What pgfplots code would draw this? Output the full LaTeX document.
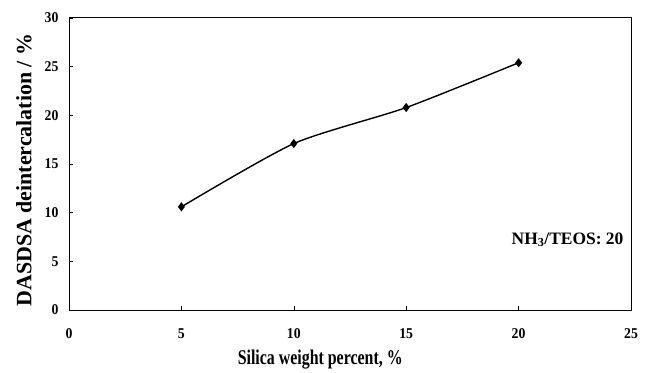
\documentclass[border=0pt]{standalone}
\usepackage{fontspec}
\setmainfont{Liberation Serif}
\usepackage{pgfplots}
\pgfplotsset{compat=1.18}
\begin{document}
\begin{tikzpicture}[x=1bp,y=1bp]
\useasboundingbox (0,0) rectangle (648,372);
\begin{axis}[
  at={(69bp,62bp)}, anchor=south west,
  scale only axis, width=562bp, height=292bp,
  xmin=0, xmax=25, ymin=0, ymax=30,
  xtick={0,5,...,25}, ytick={0,5,...,30},
  tick align=inside, xtick pos=bottom, ytick pos=left,
  major tick length=4bp,
  axis line style={line width=1bp},
  tick style={black, line width=0.6bp},
  ticklabel style={font=\fontsize{15}{16}\selectfont\bfseries, xscale=0.92},
  /pgf/number format/assume math mode=true,
  xticklabel style={yshift=-15bp},
  yticklabel style={xshift=-8bp},
  xlabel={Silica weight percent, \%},
  ylabel={DASDSA deintercalation / \%},
  xlabel style={font=\fontsize{21}{23}\selectfont\bfseries, xscale=0.76, at={(axis description cs:0.447,-0.168)}, anchor=center},
  ylabel style={font=\fontsize{22}{24}\selectfont\bfseries, at={(axis description cs:-0.080,0.479)}, anchor=center},
]
\addplot[black, line width=1.4bp, smooth, tension=0.4, mark=diamond*, mark size=3.5bp, mark options={solid}] coordinates {
(5,10.6) (10,17.1) (15,20.8) (20,25.4)
};
\node[anchor=east, font=\fontsize{17.5}{19}\selectfont\bfseries] at (axis cs:24.82,7.2) {NH\textsubscript{3}/TEOS: 20};
\end{axis}
\end{tikzpicture}
\end{document}
